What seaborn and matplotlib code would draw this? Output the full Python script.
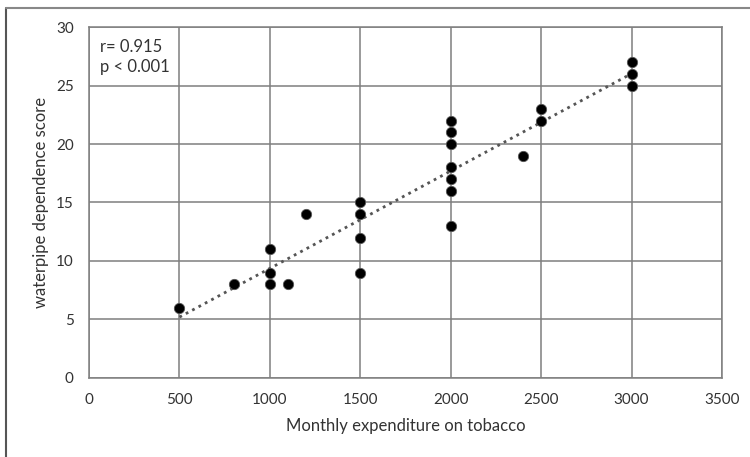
import numpy as np
import pandas as pd
import matplotlib
matplotlib.use('Agg')
import matplotlib.pyplot as plt
import seaborn as sns
from matplotlib.lines import Line2D

# values
expenditure = [500, 800, 1000, 1000, 1000, 1100, 1200,
               1500, 1500, 1500, 1500,
               2000, 2000, 2000, 2000, 2000, 2000, 2000,
               2400, 2500, 2500, 3000, 3000, 3000]
dependence = [6, 8, 11, 9, 8, 8, 14,
              15, 14, 12, 9,
              22, 21, 20, 18, 17, 16, 13,
              19, 23, 22, 27, 26, 25]
x_ticks = [0, 500, 1000, 1500, 2000, 2500, 3000, 3500]
y_ticks = [0, 5, 10, 15, 20, 25, 30]

df = pd.DataFrame({'expenditure': expenditure, 'dependence': dependence})

sns.set_style('white')
plt.rcParams['font.family'] = ['Lato', 'DejaVu Sans']

fig = plt.figure(figsize=(7.5, 4.57), dpi=100)
ax = fig.add_axes([0.1187, 0.1729, 0.8440, 0.7680])

sns.regplot(data=df, x='expenditure', y='dependence', ax=ax, ci=None,
            truncate=True,
            scatter_kws={'s': 55, 'color': 'black', 'edgecolor': '#555555',
                         'linewidths': 0.6, 'alpha': 1, 'zorder': 3},
            line_kws={'color': '#555555', 'linestyle': (0, (1, 1.6)),
                      'linewidth': 2.0, 'zorder': 2})

ax.set_xlim(0, 3500)
ax.set_ylim(0, 30)
ax.set_xticks(x_ticks)
ax.set_yticks(y_ticks)
ax.grid(True, color='#7f7f7f', linewidth=1.1)
ax.set_axisbelow(True)
for sp in ax.spines.values():
    sp.set_color('#7f7f7f')
    sp.set_linewidth(1.1)
ax.tick_params(axis='both', length=0, labelsize=11, colors='#333333', pad=11)
ax.set_xlabel('Monthly expenditure on tobacco', fontsize=12, color='#333333', labelpad=8)
ax.set_ylabel('waterpipe dependence score', fontsize=12, color='#333333', labelpad=5)

ax.text(0.018, 0.965, 'r= 0.915\np < 0.001', transform=ax.transAxes,
        fontsize=12, color='#333333', va='top', ha='left', linespacing=1.3)

# outer frame lines (left and top only)
fig.add_artist(Line2D([0.008, 0.008], [0.0, 0.982], color='#555555', linewidth=1.5))
fig.add_artist(Line2D([0.008, 1.0], [0.982, 0.982], color='#888888', linewidth=1.5))

fig.savefig('out.png', dpi=100)
